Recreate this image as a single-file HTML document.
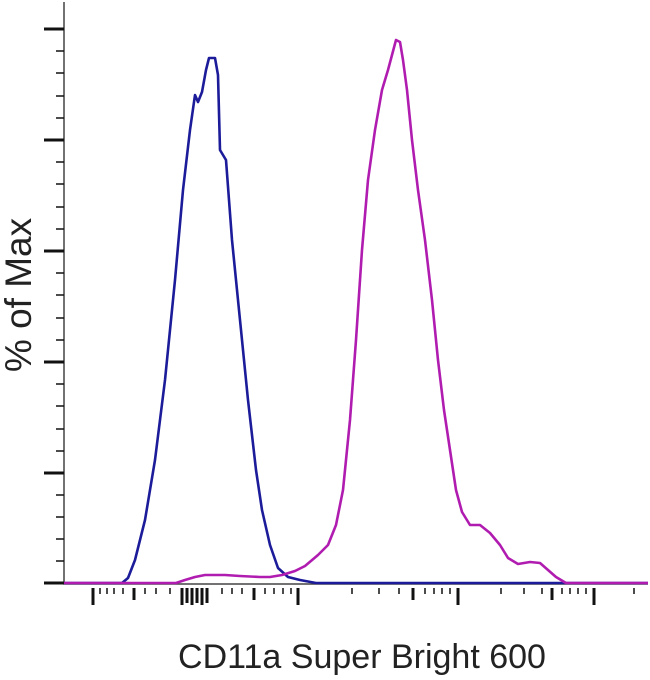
<!DOCTYPE html><html><head><style>body{margin:0;background:#fff}svg{display:block}</style></head><body>
<svg width="650" height="680" xmlns="http://www.w3.org/2000/svg" font-family="Liberation Sans, sans-serif">
<rect width="650" height="680" fill="#fff"/>
<polyline fill="none" stroke="#444" stroke-width="1.5" points="64,2 64,584 648,584"/>
<g stroke="#111" stroke-width="3">
<line x1="44" y1="29" x2="64" y2="29"/><line x1="44" y1="140" x2="64" y2="140"/><line x1="44" y1="251" x2="64" y2="251"/><line x1="44" y1="362" x2="64" y2="362"/><line x1="44" y1="473" x2="64" y2="473"/><line x1="44" y1="583" x2="64" y2="583"/>
</g>
<g stroke="#111" stroke-width="1.5">
<line x1="56" y1="51" x2="64" y2="51"/><line x1="56" y1="73" x2="64" y2="73"/><line x1="56" y1="96" x2="64" y2="96"/><line x1="56" y1="118" x2="64" y2="118"/>
<line x1="56" y1="162" x2="64" y2="162"/><line x1="56" y1="184" x2="64" y2="184"/><line x1="56" y1="207" x2="64" y2="207"/><line x1="56" y1="229" x2="64" y2="229"/>
<line x1="56" y1="273" x2="64" y2="273"/><line x1="56" y1="295" x2="64" y2="295"/><line x1="56" y1="318" x2="64" y2="318"/><line x1="56" y1="340" x2="64" y2="340"/>
<line x1="56" y1="384" x2="64" y2="384"/><line x1="56" y1="406" x2="64" y2="406"/><line x1="56" y1="429" x2="64" y2="429"/><line x1="56" y1="451" x2="64" y2="451"/>
<line x1="56" y1="495" x2="64" y2="495"/><line x1="56" y1="517" x2="64" y2="517"/><line x1="56" y1="539" x2="64" y2="539"/><line x1="56" y1="561" x2="64" y2="561"/>
</g>
<g stroke="#111" stroke-width="3">
<line x1="93" y1="588" x2="93" y2="605"/><line x1="298" y1="588" x2="298" y2="605"/><line x1="458" y1="588" x2="458" y2="605"/><line x1="594" y1="588" x2="594" y2="605"/>
<line x1="182" y1="588" x2="182" y2="605"/><line x1="187" y1="588" x2="187" y2="603"/><line x1="192" y1="588" x2="192" y2="605"/><line x1="197" y1="588" x2="197" y2="603"/><line x1="202" y1="588" x2="202" y2="605"/><line x1="207" y1="588" x2="207" y2="603"/>
<line x1="134" y1="588" x2="134" y2="600"/><line x1="254" y1="588" x2="254" y2="600"/><line x1="413" y1="588" x2="413" y2="600"/><line x1="552" y1="588" x2="552" y2="600"/>
</g>
<g stroke="#111" stroke-width="1.5">
<line x1="100" y1="588" x2="100" y2="594"/><line x1="107" y1="588" x2="107" y2="594"/><line x1="114" y1="588" x2="114" y2="594"/><line x1="123" y1="588" x2="123" y2="594"/><line x1="145" y1="588" x2="145" y2="594"/><line x1="156" y1="588" x2="156" y2="594"/><line x1="170" y1="588" x2="170" y2="594"/>
<line x1="222" y1="588" x2="222" y2="594"/><line x1="232" y1="588" x2="232" y2="594"/><line x1="242" y1="588" x2="242" y2="594"/><line x1="265" y1="588" x2="265" y2="594"/><line x1="274" y1="588" x2="274" y2="594"/><line x1="283" y1="588" x2="283" y2="594"/><line x1="291" y1="588" x2="291" y2="594"/>
<line x1="352" y1="588" x2="352" y2="594"/><line x1="379" y1="588" x2="379" y2="594"/><line x1="399" y1="588" x2="399" y2="594"/><line x1="425" y1="588" x2="425" y2="594"/><line x1="434" y1="588" x2="434" y2="594"/><line x1="442" y1="588" x2="442" y2="594"/><line x1="450" y1="588" x2="450" y2="594"/>
<line x1="501" y1="588" x2="501" y2="594"/><line x1="524" y1="588" x2="524" y2="594"/><line x1="542" y1="588" x2="542" y2="594"/><line x1="562" y1="588" x2="562" y2="594"/><line x1="570" y1="588" x2="570" y2="594"/><line x1="578" y1="588" x2="578" y2="594"/><line x1="586" y1="588" x2="586" y2="594"/><line x1="634" y1="588" x2="634" y2="594"/>
</g>
<polyline fill="none" stroke="#1c1c9a" stroke-width="2.6" stroke-linejoin="round" points="64,583 122,583 128,578 135,560 145,520 155,460 165,380 175,280 183,190 190,130 195,95 198,102 202,92 206,70 209,58 215,58 218,75 220,150 226,160 232,240 240,320 248,400 256,470 262,510 270,545 278,568 288,577 300,580 316,583 648,583"/>
<polyline fill="none" stroke="#b01cb0" stroke-width="2.6" stroke-linejoin="round" points="64,583 176,583 185,580 195,577 205,575 225,575 240,576 260,577 270,577 282,575 295,571 305,566 318,555 328,545 336,525 343,490 350,420 356,340 362,250 368,180 375,130 382,90 388,70 392,55 396,40 400,42 403,60 407,90 412,140 418,190 425,240 432,300 438,360 444,410 450,450 456,490 462,512 470,525 480,525 490,533 500,545 508,558 518,564 530,562 540,563 548,570 556,577 566,583 648,583"/>
<text x="0" y="0" transform="translate(31,295) rotate(-90)" text-anchor="middle" font-size="37" fill="#222">% of Max</text>
<text x="362" y="668" text-anchor="middle" font-size="34" fill="#222">CD11a Super Bright 600</text>
</svg>
</body></html>
